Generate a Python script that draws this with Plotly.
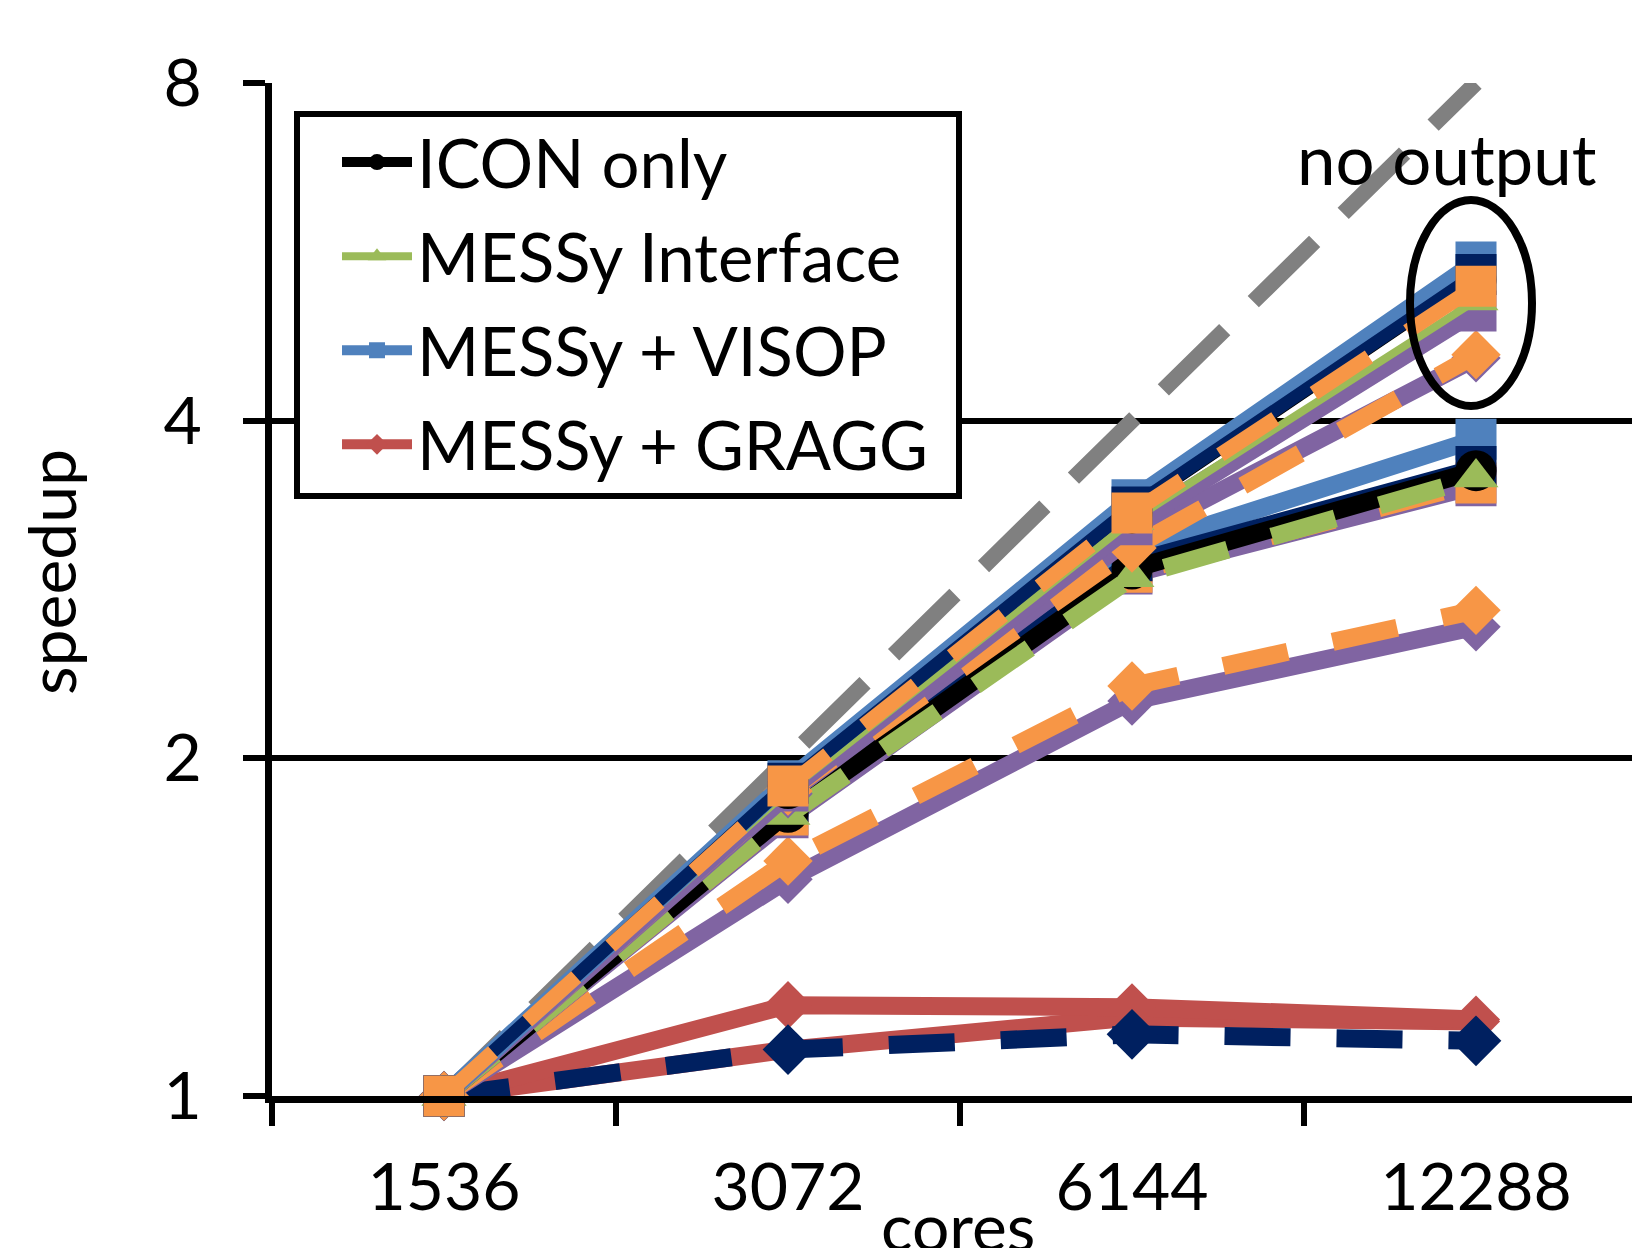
import math
import plotly.graph_objects as go

# ---------------- data ----------------
cores = ["1536", "3072", "6144", "12288"]
ytick_vals = [1, 2, 4, 8]
ytick_text = ["1", "2", "4", "8"]

ideal = [1, 2, 4, 8]

# runs without output ("no output" group)
icon_noout = [1, 1.88, 3.31, 5.34]
interface_noout = [1, 1.87, 3.26, 5.12]
visop_noout = [1, 1.91, 3.40, 5.54]
navy_sq_noout = [1, 1.90, 3.35, 5.40]
orange_sq_noout = [1, 1.89, 3.31, 5.27]
purple_sq_noout = [1, 1.87, 3.23, 5.01]
purple_dia_noout = [1, 1.86, 3.15, 4.55]
orange_dia_noout = [1, 1.87, 3.08, 4.58]

# runs with output
icon_out = [1, 1.79, 2.95, 3.61]
interface_out = [1, 1.78, 2.90, 3.56]
visop_out = [1, 1.85, 3.07, 3.85]
navy_sq_out = [1, 1.83, 3.00, 3.64]
orange_sq_out = [1, 1.78, 2.93, 3.52]
purple_sq_out = [1, 1.77, 2.92, 3.50]
purple_dia_out = [1, 1.56, 2.25, 2.62]
orange_dia_out = [1, 1.62, 2.32, 2.71]

# GRAGG runs
gragg_a = [1, 1.205, 1.20, 1.17]
gragg_b = [1, 1.10, 1.175, 1.165]
navy_dia_dash = [1, 1.10, 1.135, 1.12]

legend_names = ["ICON only", "MESSy Interface", "MESSy + VISOP", "MESSy + GRAGG"]

# ---------------- styles ----------------
BLACK = "#000000"
GREEN = "#9BBB59"
BLUE = "#4F81BD"
RED = "#C0504D"
PURPLE = "#8064A2"
ORANGE = "#F79646"
NAVY = "#002060"
GRAY = "#808080"
DASH = "66px,46px"
FONT = "Lato"
LW = 18

fig = go.Figure()


def add(y, color, symbol=None, size=40, width=LW, dash="solid", name=None, rank=None):
    mode = "lines+markers" if symbol else "lines"
    fig.add_trace(go.Scatter(
        x=cores, y=y, mode=mode,
        line=dict(color=color, width=width, dash=dash),
        marker=dict(symbol=symbol or "circle", size=size, color=color, line=dict(width=0)),
        name=name or "", showlegend=name is not None,
        legendgroup=name if name is not None else None,
        legendrank=rank if rank is not None else 1000,
        cliponaxis=False,
    ))


# bottom -> top drawing order
add(ideal, GRAY, None, width=16, dash="86px,40px")
add(gragg_b, RED, "diamond", size=37)
add(gragg_a, RED, "diamond", size=37, name=legend_names[3], rank=4)
add(navy_dia_dash, NAVY, "diamond", size=39, dash=DASH)
add(purple_dia_out, PURPLE, "diamond", size=38)
add(orange_dia_out, ORANGE, "diamond", size=38, dash=DASH)
add(purple_sq_out, PURPLE, "square", size=41)
add(orange_sq_out, ORANGE, "square", size=41, dash=DASH)
add(visop_out, BLUE, "square", size=41, name=legend_names[2], rank=3)
add(navy_sq_out, NAVY, "square", size=41, width=15)
add(icon_out, BLACK, "circle", size=41, name=legend_names[0], rank=1)
add(interface_out, GREEN, "triangle-up", size=39, dash=DASH)
add(purple_dia_noout, PURPLE, "diamond", size=38)
add(orange_dia_noout, ORANGE, "diamond", size=38, dash=DASH)
add(purple_sq_noout, PURPLE, "square", size=41)
add(icon_noout, BLACK, "circle", size=41, width=5)
add(interface_noout, GREEN, "triangle-up", size=39, width=8, name=legend_names[1], rank=2)
add(visop_noout, BLUE, "square", size=41)
add(navy_sq_noout, NAVY, "square", size=41, width=13)
add(orange_sq_noout, ORANGE, "square", size=41, width=15, dash=DASH)

# ---------------- layout ----------------
L, T, W, H = 272, 83, 1632, 1248
BOT = 1096
PW = W - L
PH = BOT - T
cat_px = 344.0


def px_x(p):
    return (p - L) / PW


def px_y(p):
    return (BOT - p) / PH


fig.update_layout(
    width=W, height=H,
    margin=dict(l=L, r=0, t=T, b=H - BOT, pad=0),
    paper_bgcolor="white", plot_bgcolor="white",
    font=dict(family=FONT, size=66, color="black"),
    showlegend=True,
    legend=dict(
        x=px_x(337), y=px_y(112), xanchor="left", yanchor="top",
        bgcolor="rgba(0,0,0,0)", borderwidth=0,
        font=dict(family=FONT, size=67, color="black"),
        itemwidth=70, tracegroupgap=4, traceorder="grouped",
        itemsizing="trace",
    ),
    xaxis=dict(
        type="category", categoryorder="array", categoryarray=cores,
        range=[-0.5, -0.5 + PW / cat_px],
        tickson="boundaries", ticks="outside", ticklen=23, tickwidth=6, tickcolor="black",
        showline=True, linewidth=7, linecolor="black", showgrid=False, zeroline=False,
        tickfont=dict(family=FONT, size=66), ticklabelstandoff=28,
    ),
    yaxis=dict(
        type="log", range=[0, math.log10(8)],
        tickvals=ytick_vals, ticktext=ytick_text,
        ticks="outside", ticklen=22, tickwidth=6, tickcolor="black",
        showline=True, linewidth=7, linecolor="black",
        showgrid=True, gridcolor="black", gridwidth=6, zeroline=False,
        tickfont=dict(family=FONT, size=66), ticklabelstandoff=28,
    ),
    annotations=[
        dict(text="speedup", xref="paper", yref="paper", x=px_x(50), y=px_y(572),
             showarrow=False, textangle=-90, font=dict(family=FONT, size=66),
             xanchor="center", yanchor="middle"),
        dict(text="cores", xref="paper", yref="paper", x=px_x(958), y=px_y(1184),
             showarrow=False, font=dict(family=FONT, size=66),
             xanchor="center", yanchor="top"),
        dict(text="no output", xref="paper", yref="paper", x=px_x(1447), y=px_y(158),
             showarrow=False, font=dict(family=FONT, size=69),
             xanchor="center", yanchor="middle"),
    ],
    shapes=[
        # legend frame
        dict(type="rect", xref="paper", yref="paper",
             x0=px_x(297), x1=px_x(959), y0=px_y(496), y1=px_y(114),
             fillcolor="white", line=dict(color="black", width=6), layer="above"),
        # "no output" ellipse
        dict(type="circle", xref="paper", yref="paper",
             x0=px_x(1410), x1=px_x(1532), y0=px_y(406), y1=px_y(200),
             line=dict(color="black", width=8), layer="above"),
    ],
)

fig.write_html("out.html")
